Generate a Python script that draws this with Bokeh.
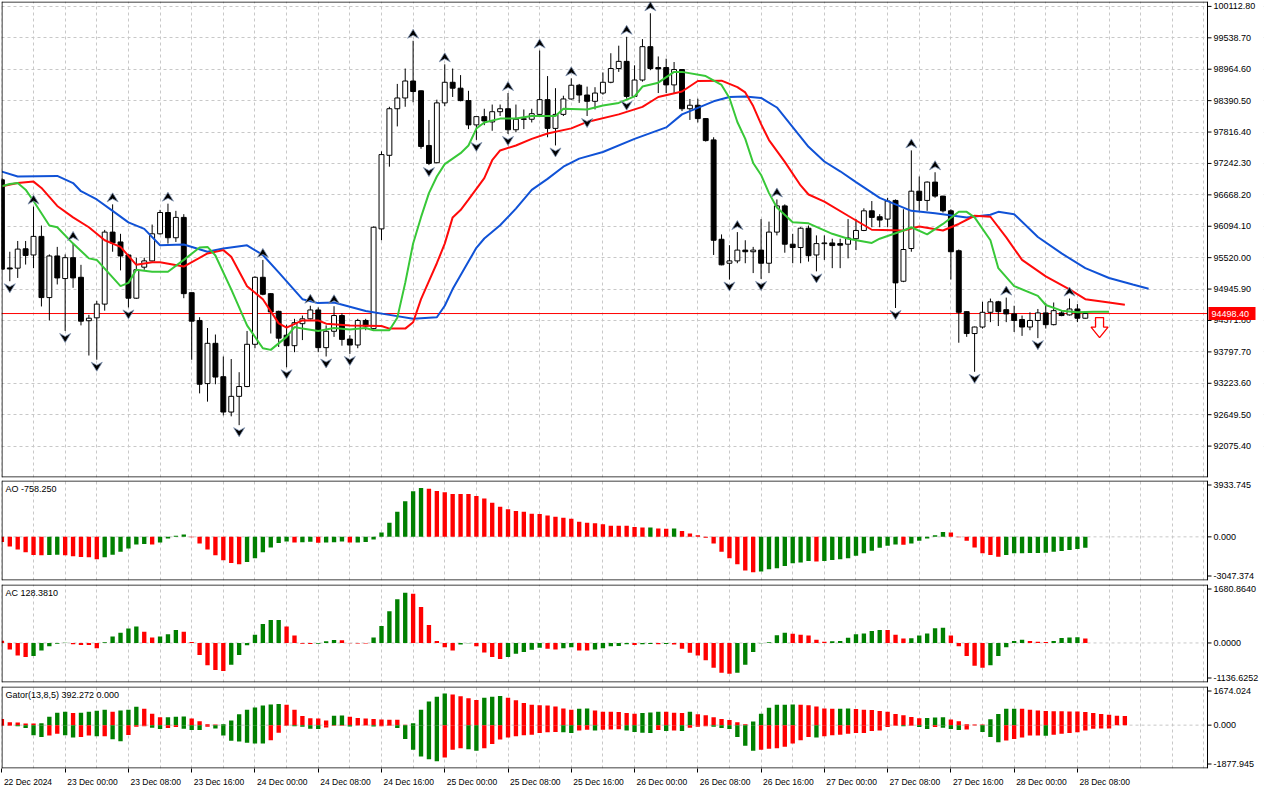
from bokeh.plotting import figure
from bokeh.layouts import column
from bokeh.models import FixedTicker, Grid, Range1d, Label, CustomJSTickFormatter
from bokeh.core.properties import value
from bokeh.embed import file_html
from bokeh.resources import INLINE

# ---------------- data (hourly BTCUSD bars, 22 Dec 16:00 .. 28 Dec 09:00) ----------------
open_ = [96943, 95332, 95328, 95682, 95569, 95909, 94790, 95551, 95138, 95520,
         95161, 94367, 94420, 94671, 95987, 95807, 95569, 94779, 95346, 95461,
         95956, 96345, 95884, 96256, 94880, 94372, 93218, 93954, 93344, 92698,
         92985, 93164, 93936, 95161, 94862, 94539, 94103, 93911, 94313, 94402,
         94564, 93875, 94174, 94462, 94031, 93923, 94372, 94223, 96046, 97391,
         98242, 98439, 98749, 98570, 97571, 97255, 98349, 98726, 98618, 98391,
         97947, 98098, 98001, 98188, 98242, 97858, 98050, 98050, 98139, 98408,
         97883, 98139, 98421, 98672, 98493, 98378, 98529, 98726, 98977, 99108,
         98468, 98767, 99377, 98995, 98995, 98678, 98959, 98242, 98306, 98062,
         97673, 95856, 95418, 95461, 95658, 95628, 95658, 95418, 95987, 96466,
         95766, 95705, 96058, 95569, 95777, 95789, 95777, 95766, 95866, 96017,
         96376, 96268, 96225, 96566, 95089, 95687, 96735, 96566, 96901, 96645,
         96376, 95646, 94533, 94133, 94252, 94521, 94713, 94569, 94492, 94390,
         94252, 94372, 94510, 94295, 94510, 94474, 94582, 94413]
high = [96973, 95628, 95825, 95825, 96453, 96107, 95579, 95717, 95579, 95789,
        95389, 94474, 94731, 96028, 96494, 95956, 95586, 95520, 95520, 96125,
        96394, 96507, 96376, 96315, 94880, 94431, 94234, 94115, 93713, 93667,
        93426, 94180, 95179, 95479, 94874, 94551, 94295, 94402, 94462, 94641,
        94610, 94282, 94632, 94503, 94103, 94402, 94402, 96090, 97463, 98278,
        98696, 98977, 99485, 98575, 98037, 98408, 99054, 98977, 98857, 98570,
        98098, 98242, 98319, 98319, 98529, 98319, 98229, 98242, 99306, 98839,
        98618, 98480, 98798, 98696, 98647, 98636, 98905, 99257, 99395, 99557,
        99036, 99515, 99987, 99198, 99157, 99096, 98965, 98421, 98426, 98070,
        97721, 95945, 95748, 95987, 95838, 95717, 96225, 96179, 96584, 96494,
        95956, 96076, 96107, 95927, 95927, 95866, 95866, 96225, 96225, 96422,
        96555, 96315, 96614, 96584, 96405, 97481, 97004, 96914, 97081, 96650,
        96405, 95669, 94540, 94260, 94713, 94772, 94731, 94790, 94641, 94462,
        94521, 94582, 94689, 94700, 94551, 94772, 94671, 94515]
low = [95305, 95089, 95149, 95394, 95328, 94628, 94372, 95030, 94180, 94969,
       94282, 93731, 93654, 94551, 95628, 95287, 94610, 94767, 95299, 95448,
       95942, 95777, 95807, 94779, 93654, 93039, 92888, 93206, 92637, 92619,
       92458, 93152, 93864, 94833, 94133, 93887, 93516, 93792, 94013, 94390,
       93792, 93713, 94072, 93911, 93760, 93864, 94193, 94210, 95838, 97183,
       97919, 98278, 98360, 97511, 97212, 97245, 98288, 98457, 98378, 97870,
       97673, 97942, 97840, 98109, 97781, 97811, 97870, 97991, 98094, 97721,
       97571, 98109, 98408, 98349, 98109, 98229, 98498, 98708, 98916, 98426,
       98462, 98737, 98947, 98529, 98529, 98529, 98199, 98037, 97991, 97642,
       95569, 95380, 95120, 95418, 95418, 95238, 95131, 95238, 95927, 95610,
       95418, 95418, 95448, 95269, 95479, 95328, 95328, 95507, 95658, 96005,
       96076, 96076, 96076, 94600, 95072, 95628, 96376, 96376, 96614, 96345,
       95120, 93965, 94072, 93434, 94223, 94341, 94270, 94341, 94162, 94090,
       94193, 94049, 94223, 94282, 94449, 94462, 94341, 94405]
close = [95310, 95314, 95676, 95561, 95909, 94790, 95551, 95149, 95520, 95149,
         94359, 94413, 94671, 95987, 95789, 95551, 94779, 95299, 95461, 95956,
         96345, 95884, 96256, 94862, 94359, 93206, 93954, 93337, 92698, 92985,
         93164, 93936, 95161, 94851, 94528, 94049, 93911, 94331, 94402, 94564,
         93875, 94174, 94462, 94026, 93923, 94372, 94270, 96076, 97404, 98242,
         98439, 98749, 98557, 97553, 97242, 98349, 98726, 98618, 98391, 97947,
         98098, 98019, 98188, 98242, 97858, 98050, 98059, 98152, 98408, 97883,
         98139, 98421, 98672, 98493, 98378, 98529, 98726, 98977, 99108, 98468,
         98767, 99377, 98977, 98970, 98678, 98959, 98242, 98306, 98062, 97660,
         95838, 95389, 95461, 95658, 95628, 95658, 95418, 95987, 96466, 95766,
         95705, 96058, 95556, 95777, 95789, 95741, 95748, 95879, 96017, 96376,
         96256, 96207, 96555, 95059, 95669, 96735, 96566, 96901, 96645, 96376,
         95628, 94521, 94133, 94252, 94521, 94713, 94533, 94492, 94372, 94252,
         94372, 94510, 94295, 94551, 94462, 94582, 94413, 94498.40]
current_price = 94498.40

up_fractals = [4, 9, 14, 21, 33, 39, 42, 52, 56, 64, 68, 72, 79, 82, 93, 98, 115, 118, 127, 135]
down_fractals = [1, 8, 12, 16, 30, 36, 41, 44, 54, 60, 64, 70, 74, 79, 92, 96, 103, 113, 123, 131]

# Alligator (shifted lines, read at bar indices)
jaw_idx = [0, 2, 7, 9, 10, 12, 14, 16, 18, 20, 23, 26, 28, 31, 33, 35, 38, 40, 42, 46,
           49, 52, 55, 56, 57, 58, 59, 60, 61, 63, 65, 67, 69, 71, 73, 76, 80, 84, 86, 90,
           92, 94, 96, 98, 100, 102, 104, 106, 108, 111, 115, 118, 122, 125, 126, 128, 131, 134, 137, 140,
           143, 145]
jaw_val = [97093, 97004, 97014, 96884, 96735, 96584, 96376, 96166, 96046, 95748,
           95760, 95628, 95687, 95745, 95569, 95250, 94761, 94689, 94700, 94545,
           94474, 94402, 94431, 94641, 94946, 95197, 95448, 95700, 95870, 96112,
           96417, 96758, 96960, 97183, 97330, 97452, 97691, 97901, 98139, 98378,
           98457, 98468, 98440, 98265, 97906, 97547, 97278, 97099, 96901, 96614,
           96376, 96333, 96256, 96304, 96358, 96315, 95897, 95597, 95328, 95149,
           95030, 94951]
teeth_idx = [0, 2, 4, 5, 7, 9, 11, 13, 15, 17, 19, 20, 23, 26, 28, 29, 31, 33, 35, 36,
             38, 40, 41, 44, 48, 49, 51, 52, 53, 54, 55, 56, 57, 58, 59, 61, 62, 63, 65, 67,
             69, 72, 74, 78, 81, 83, 86, 88, 91, 93, 94, 95, 96, 97, 99, 101, 102, 104, 107, 110,
             114, 116, 119, 121, 123, 125, 127, 129, 132, 135, 137, 140, 142]
teeth_val = [96824, 96883, 96910, 96794, 96465, 96256, 96076, 95838, 95717, 95389,
             95436, 95436, 95358, 95597, 95658, 95538, 94999, 94761, 94318, 94240,
             94372, 94372, 94313, 94282, 94270, 94223, 94223, 94340, 94761, 95090,
             95418, 95777, 96256, 96390, 96580, 96973, 97301, 97480, 97571, 97691,
             97790, 97883, 98001, 98139, 98277, 98457, 98557, 98749, 98755, 98636,
             98540, 98290, 97960, 97670, 97270, 96840, 96674, 96543, 96286, 96030,
             96017, 96089, 96017, 96136, 96286, 96268, 95890, 95479, 95179, 94941,
             94761, 94700, 94659]
lips_idx = [0, 1, 2, 3, 4, 6, 7, 9, 11, 12, 13, 15, 16, 17, 19, 21, 23, 25, 26, 27,
            29, 31, 33, 34, 36, 37, 38, 40, 42, 44, 46, 47, 49, 50, 51, 52, 53, 54, 55, 56,
            58, 59, 60, 61, 63, 65, 67, 70, 71, 74, 76, 78, 80, 81, 83, 85, 86, 89, 91, 92,
            93, 94, 95, 96, 97, 98, 100, 102, 105, 107, 110, 111, 114, 115, 117, 119, 121, 122, 123, 125,
            126, 128, 131, 132, 134, 136, 138, 140]
lips_val = [96824, 96866, 96883, 96763, 96555, 96107, 96076, 95777, 95507, 95479,
            95320, 94999, 95059, 95299, 95263, 95263, 95479, 95705, 95717, 95560,
            94941, 94282, 93864, 93834, 94072, 94251, 94223, 94180, 94234, 94205,
            94234, 94192, 94192, 94420, 95059, 95780, 96260, 96700, 97004, 97230,
            97430, 97571, 97880, 97991, 98062, 98062, 98109, 98109, 98242, 98229,
            98301, 98349, 98468, 98647, 98719, 98916, 98916, 98839, 98678, 98439,
            98000, 97691, 97250, 97032, 96700, 96435, 96166, 96148, 95956, 95866,
            95789, 95866, 96017, 96076, 95945, 96136, 96358, 96358, 96256, 95838,
            95328, 95000, 94820, 94654, 94551, 94521, 94533, 94533]

ao = [-368, -668, -875, -1082, -1267, -1290, -1267, -1244, -1290, -1359,
      -1405, -1428, -1566, -1428, -1244, -1036, -806, -530, -507, -530,
      -392, -115, 69, 161, -23, -461, -875, -1290, -1635, -1819,
      -1911, -1750, -1497, -1082, -737, -438, -322, -392, -370, -350,
      -420, -400, -380, -322, -400, -392, -368, -184, 299, 990,
      1750, 2487, 3178, 3408, 3362, 3201, 3109, 2994, 2990, 2985,
      2856, 2671, 2372, 2096, 1935, 1796, 1750, 1612, 1589, 1497,
      1405, 1336, 1267, 1059, 990, 944, 875, 783, 780, 775,
      691, 645, 650, 576, 570, 580, 415, 230, 115, -69,
      -461, -1036, -1497, -1911, -2349, -2464, -2418, -2257, -2188, -2027,
      -1842, -1796, -1681, -1727, -1681, -1612, -1566, -1497, -1313, -1152,
      -967, -760, -622, -530, -545, -461, -276, -115, 115, 345,
      299, -23, -276, -737, -1152, -1267, -1382, -1267, -1152, -1140,
      -1130, -1120, -1106, -1036, -990, -921, -852, -758]
ao_color_runs = [("r", 6), ("g", 2), ("r", 5), ("g", 6), ("r", 1), ("g", 4), ("r", 7), ("g", 6),
                 ("r", 1), ("g", 2), ("r", 1), ("g", 3), ("r", 1), ("g", 9), ("r", 28), ("g", 1),
                 ("r", 2), ("g", 1), ("r", 10), ("g", 7), ("r", 1), ("g", 10), ("r", 1), ("g", 5),
                 ("r", 7), ("g", 11)]

ac = [66, -188, -357, -404, -376, -216, -94, -19, 9, -38,
      -56, -60, -150, 19, 188, 291, 413, 470, 319, 160,
      188, 254, 376, 319, 28, -347, -639, -779, -808, -629,
      -347, -66, 235, 545, 657, 660, 470, 216, -19, -28,
      -20, 47, 85, 80, -9, -12, -15, 160, 488, 911,
      1258, 1446, 1418, 1033, 516, 56, -122, -216, -47, -9,
      -94, -272, -404, -460, -404, -310, -263, -197, -141, -169,
      -188, -150, -122, -216, -220, -188, -150, -94, -85, -38,
      -56, -38, -28, -38, -30, -47, -169, -282, -357, -498,
      -714, -854, -883, -854, -629, -263, -9, 19, 225, 291,
      263, 235, 216, 94, 38, 47, 56, 150, 254, 272,
      347, 376, 370, 235, 131, 135, 216, 272, 423, 441,
      216, -94, -376, -657, -714, -639, -376, -122, 56, 94,
      56, 38, 30, 56, 141, 160, 165, 128]
ac_color_runs = [("r", 4), ("g", 5), ("r", 4), ("g", 5), ("r", 2), ("g", 3), ("r", 6), ("g", 7),
                 ("r", 4), ("g", 3), ("r", 4), ("g", 5), ("r", 6), ("g", 2), ("r", 4), ("g", 5),
                 ("r", 2), ("g", 2), ("r", 2), ("g", 5), ("r", 1), ("g", 2), ("r", 1), ("g", 1),
                 ("r", 8), ("g", 7), ("r", 5), ("g", 7), ("r", 3), ("g", 5), ("r", 5), ("g", 5),
                 ("r", 3), ("g", 4), ("r", 1)]

gator_up = [269, 128, 113, 71, 71, 85, 368, 538, 581, 524,
            538, 581, 623, 666, 581, 638, 666, 794, 709, 496,
            340, 345, 368, 370, 283, 170, 43, 28, 43, 198,
            468, 666, 765, 850, 893, 921, 879, 666, 397, 298,
            290, 198, 411, 415, 368, 312, 283, 269, 241, 238,
            235, 14, 85, 666, 1020, 1233, 1374, 1332, 1247, 1162,
            1091, 1190, 1233, 1261, 1190, 1077, 964, 879, 864, 850,
            808, 723, 666, 709, 720, 638, 581, 575, 567, 524,
            496, 524, 553, 581, 575, 538, 524, 581, 468, 425,
            340, 270, 227, 128, 43, 156, 496, 751, 879, 885,
            890, 879, 864, 808, 723, 709, 712, 723, 694, 666,
            652, 609, 581, 482, 425, 354, 298, 312, 326, 340,
            241, 170, 43, 28, 25, 255, 482, 709, 715, 709,
            666, 638, 609, 605, 600, 595, 590, 567, 527, 484,
            455, 412, 392]
gator_down = [-28, -28, -43, -128, -439, -510, -453, -368, -439, -538,
              -510, -453, -482, -480, -609, -694, -425, -71, -43, -113,
              -170, -128, -85, -156, -213, -215, -71, -142, -453, -680,
              -709, -765, -794, -800, -652, -326, -28, -43, -71, -156,
              -170, -99, -28, -25, -57, -14, -12, -57, -43, -28,
              -128, -595, -1063, -1360, -1474, -1559, -1403, -1063, -1006, -1049,
              -1105, -1006, -822, -623, -538, -482, -439, -411, -340, -312,
              -298, -312, -340, -227, -198, -227, -198, -184, -180, -227,
              -298, -326, -340, -213, -255, -227, -255, -113, -71, -43,
              -71, -128, -170, -510, -893, -1105, -1063, -1020, -1006, -935,
              -794, -652, -510, -538, -482, -439, -411, -368, -340, -335,
              -255, -227, -85, -28, -43, -28, -85, -170, -85, -113,
              -170, -213, -184, -14, -298, -510, -737, -666, -595, -538,
              -453, -450, -455, -411, -368, -340, -312, -227, -153, -150,
              -148, 0, 0]

price_ticks = [92075.40, 92649.50, 93223.60, 93797.70, 94371.80, 94945.90, 95520.00,
               96094.10, 96668.20, 97242.30, 97816.40, 98390.50, 98964.60, 99538.70, 100112.80]
time_tick_idx = [0, 8, 16, 24, 32, 40, 48, 56, 64, 72, 80, 88, 96, 104, 112, 120, 128, 136]
time_tick_labels = ["22 Dec 2024", "23 Dec 00:00", "23 Dec 08:00", "23 Dec 16:00",
                    "24 Dec 00:00", "24 Dec 08:00", "24 Dec 16:00", "25 Dec 00:00",
                    "25 Dec 08:00", "25 Dec 16:00", "26 Dec 00:00", "26 Dec 08:00",
                    "26 Dec 16:00", "27 Dec 00:00", "27 Dec 08:00", "27 Dec 16:00",
                    "28 Dec 00:00", "28 Dec 08:00"]
ao_title = "AO -758.250"
ac_title = "AC 128.3810"
gator_title = "Gator(13,8,5) 392.272 0.000"
AO_RANGE = (-3047.374, 3933.745)
AC_RANGE = (-1136.6252, 1680.8640)
GT_RANGE = (-1877.945, 1674.024)
PRICE_RANGE = (91501.3, 100202.5)

# ---------------- styling / layout ----------------
X0, X1 = -0.05, 152.45          # chart area; X1 is where the price scale begins
FW = 1206                       # chart area width (px)
AXW = 56                        # price-scale strip width (px)
FWT = FW + AXW
MAIN_H, AO_H, AC_H, GT_H = 476, 100, 98, 82
FONT = "Liberation Sans"
GRID_C = "#c8c8c8"
GREEN, RED = "#008000", "#ff0000"
BLUE_L, RED_L, GREEN_L = "#1052d6", "#ff0a0a", "#38c838"
bpx = (X1 - X0) / FW                      # bars per pixel
XT = X0 + FWT * bpx
ppy = (PRICE_RANGE[1] - PRICE_RANGE[0]) / MAIN_H   # price per pixel

xr = Range1d(X0, XT)
grid_idx = list(range(0, 153, 4))


def runs_to_colors(runs):
    out = []
    for ch, k in runs:
        out += [GREEN if ch == "g" else RED] * k
    return out


def base_fig(fh, y0, y1, top, bottom, with_x=False):
    p = figure(frame_width=FWT, frame_height=fh, x_range=xr, y_range=Range1d(y0, y1),
               output_backend="svg", toolbar_location=None, tools="",
               x_axis_location="below" if with_x else None, y_axis_location=None,
               min_border_left=1, min_border_right=1, min_border_top=top, min_border_bottom=bottom)
    p.outline_line_color = None
    p.background_fill_color = "white"
    p.border_fill_color = "white"
    p.xgrid.visible = False
    p.ygrid.visible = False
    p.add_layout(Grid(dimension=0, ticker=FixedTicker(ticks=grid_idx),
                      grid_line_color=GRID_C, grid_line_dash="3 3"))
    return p


def price_scale(p, fh, y0, y1, ticks, labels):
    """white strip, chart border, tick marks and tick labels of the right-hand scale"""
    pp = (y1 - y0) / fh
    p.quad(left=X1, right=XT, bottom=y0, top=y1, fill_color="white", line_color=None)
    ex, ey = 0.5 * bpx, 0.5 * pp
    p.segment(x0=[X0 + ex, X0 + ex, X0 + ex, X1], y0=[y0 + ey, y1 - ey, y0, y0],
              x1=[X1, X1, X0 + ex, X1], y1=[y0 + ey, y1 - ey, y1, y1],
              line_color="black", line_width=1)
    k = len(ticks)
    p.segment(x0=[X1] * k, y0=ticks, x1=[X1 + 4 * bpx] * k, y1=ticks,
              line_color="black", line_width=1)
    p.text(x=[X1 + 6 * bpx] * k, y=ticks, text=labels, text_baseline="middle",
           text_align="left", text_font=value(FONT), text_font_size="9px", text_color="black")


def sub_scale(p, fh, y0, y1, fmt):
    inset = 4.5 * (y1 - y0) / fh
    ticks = [y1 - inset, 0.0, y0 + inset]
    labels = [fmt % y1, fmt % 0.0, fmt % y0]
    p.segment(x0=[X0], y0=[0], x1=[X1], y1=[0], line_color=GRID_C, line_dash="3 3", line_width=1)
    return ticks, labels


def title(p, fh, txt):
    p.add_layout(Label(x=4, y=fh - 3, x_units="screen", y_units="screen", text=txt,
                       text_baseline="top", text_align="left", text_font=FONT,
                       text_font_size="9px", text_color="black"))


# ---------------- main price panel ----------------
main = base_fig(MAIN_H, PRICE_RANGE[0], PRICE_RANGE[1], 1, 1)
main.ygrid.visible = True
main.ygrid.ticker = FixedTicker(ticks=price_ticks)
main.ygrid.grid_line_color = GRID_C
main.ygrid.grid_line_dash = "3 3"

n = len(close)
idx = list(range(n))
min_h = 0.7 * ppy
b_top = [max(o, c) for o, c in zip(open_, close)]
b_bot = [min(o, c) for o, c in zip(open_, close)]
b_bot = [b if t - b >= min_h else t - min_h for t, b in zip(b_top, b_bot)]
b_fill = ["white" if c >= o else "black" for o, c in zip(open_, close)]

main.segment(x0=[X0], y0=[current_price], x1=[X1], y1=[current_price], line_color="#ff0000", line_width=1)
main.segment(x0=idx, y0=low, x1=idx, y1=high, line_color="black", line_width=1)
main.vbar(x=idx, width=0.62, top=b_top, bottom=b_bot, fill_color=b_fill,
          line_color="black", line_width=1)

main.line(jaw_idx, jaw_val, line_color=BLUE_L, line_width=2)
main.line(teeth_idx, teeth_val, line_color=RED_L, line_width=2)
main.line(lips_idx, lips_val, line_color=GREEN_L, line_width=2)

# fractal arrows
shape = [(0, 4.5), (-5.5, -4.5), (0, -1.5), (5.5, -4.5)]
fxs, fys = [], []
for i in up_fractals:
    yc = high[i] + 7 * ppy
    fxs.append([i + dx * bpx for dx, dy in shape])
    fys.append([yc + dy * ppy for dx, dy in shape])
for i in down_fractals:
    yc = low[i] - 7 * ppy
    fxs.append([i + dx * bpx for dx, dy in shape])
    fys.append([yc - dy * ppy for dx, dy in shape])
main.patches(fxs, fys, fill_color="black", line_color="#7f93b3", line_width=0.8)

# sell signal arrow next to the last bar
ax_i = n + 0.8
arrow_pts = [(-4, -4), (4, -4), (4, -13.5), (8.5, -13.5), (0, -24), (-8.5, -13.5), (-4, -13.5)]
main.patch([ax_i + dx * bpx for dx, dy in arrow_pts],
           [current_price + dy * ppy for dx, dy in arrow_pts],
           fill_color="white", line_color="#ff0000", line_width=1.3)

price_scale(main, MAIN_H, PRICE_RANGE[0], PRICE_RANGE[1], price_ticks,
            ["%.2f" % t for t in price_ticks])
# current price box on the scale
main.quad(left=[X1 + 1 * bpx], right=[X1 + 48 * bpx],
          bottom=[current_price - 6.5 * ppy], top=[current_price + 6.5 * ppy],
          fill_color="#ff0000", line_color=None)
main.text(x=[X1 + 4 * bpx], y=[current_price], text=["%.2f" % current_price],
          text_baseline="middle", text_align="left", text_font=value(FONT),
          text_font_size="9px", text_color="white")

# ---------------- AO ----------------
aof = base_fig(AO_H, AO_RANGE[0], AO_RANGE[1], 2, 1)
t, l = sub_scale(aof, AO_H, AO_RANGE[0], AO_RANGE[1], "%.3f")
aof.vbar(x=list(range(len(ao))), width=0.55, top=ao, bottom=0,
         fill_color=runs_to_colors(ao_color_runs), line_color=None)
price_scale(aof, AO_H, AO_RANGE[0], AO_RANGE[1], t, l)
title(aof, AO_H, ao_title)

# ---------------- AC ----------------
acf = base_fig(AC_H, AC_RANGE[0], AC_RANGE[1], 3, 1)
t, l = sub_scale(acf, AC_H, AC_RANGE[0], AC_RANGE[1], "%.4f")
acf.vbar(x=list(range(len(ac))), width=0.55, top=ac, bottom=0,
         fill_color=runs_to_colors(ac_color_runs), line_color=None)
price_scale(acf, AC_H, AC_RANGE[0], AC_RANGE[1], t, l)
title(acf, AC_H, ac_title)

# ---------------- Gator ----------------
gtf = base_fig(GT_H, GT_RANGE[0], GT_RANGE[1], 3, 0, with_x=True)
t, l = sub_scale(gtf, GT_H, GT_RANGE[0], GT_RANGE[1], "%.3f")


def gator_colors(vals):
    out = []
    for k, v in enumerate(vals):
        if k == 0:
            out.append(RED)
        else:
            out.append(GREEN if abs(v) > abs(vals[k - 1]) else RED)
    return out


for vals in (gator_up, gator_down):
    cols = gator_colors(vals)
    xs = [k for k, v in enumerate(vals) if v != 0]
    vs = [v for v in vals if v != 0]
    cs = [c for c, v in zip(cols, vals) if v != 0]
    gtf.vbar(x=xs, width=0.55, top=vs, bottom=0, fill_color=cs, line_color=None)
price_scale(gtf, GT_H, GT_RANGE[0], GT_RANGE[1], t, l)
title(gtf, GT_H, gator_title)

# time axis: labels start at their tick (drawn as centred labels shifted right)
XFS = 8.5
cw = {" ": 0.278, ":": 0.278, "D": 0.722, "e": 0.556, "c": 0.5}
pxb = 1.0 / bpx
centers = []
for i, s in zip(time_tick_idx, time_tick_labels):
    w = sum(cw.get(ch, 0.556) for ch in s) * XFS
    centers.append(i + (w / 2 + 2) / pxb)
xa = gtf.xaxis[0]
xa.ticker = FixedTicker(ticks=centers, minor_ticks=time_tick_idx)
xa.formatter = CustomJSTickFormatter(args=dict(pos=centers, labs=time_tick_labels), code="""
    for (let k = 0; k < pos.length; k++) { if (Math.abs(pos[k] - tick) < 1e-6) return labs[k]; }
    return "";
""")
xa.major_tick_line_color = None
xa.major_tick_in = 0
xa.major_tick_out = 0
xa.minor_tick_in = 0
xa.minor_tick_out = 4
xa.minor_tick_line_color = "black"
xa.axis_line_color = None
xa.major_label_standoff = 4
xa.major_label_text_font = FONT
xa.major_label_text_font_size = "%.1fpx" % XFS
xa.major_label_text_color = "black"

layout = column(main, aof, acf, gtf, spacing=0)
open("out.html", "w").write(file_html(layout, INLINE))
